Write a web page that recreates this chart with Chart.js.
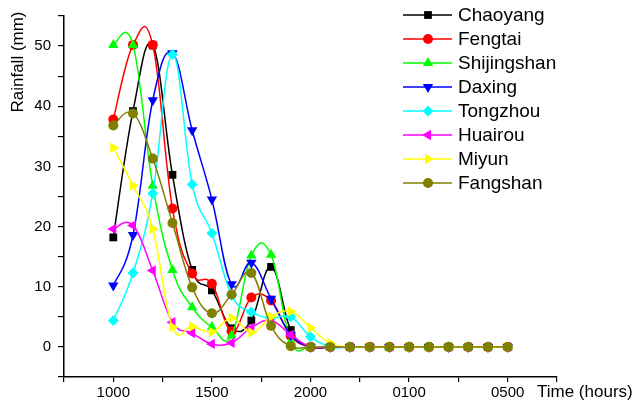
<!DOCTYPE html>
<html>
<head>
<meta charset="utf-8">
<script src="https://cdn.jsdelivr.net/npm/chart.js@4.4.0/dist/chart.umd.min.js"></script>
<style>
  html, body { margin: 0; padding: 0; background: #fff; }
  #wrap { width: 638px; height: 407px; }
</style>
</head>
<body>
<div id="wrap"><canvas id="rainChart" width="638" height="407"></canvas></div>
<script>
// --- Data: hourly rainfall (mm) per district ---
const tickLabels = ['1000', '1500', '2000', '0100', '0500'];
const stations = ['Chaoyang', 'Fengtai', 'Shijingshan', 'Daxing', 'Tongzhou', 'Huairou', 'Miyun', 'Fangshan'];

const chaoyang    = [18.2, 39.2, 50.1, 28.6, 12.8, 9.4, 3.1, 4.4, 13.3, 2.8, 0, 0, 0, 0, 0, 0, 0, 0, 0, 0, 0];
const fengtai     = [37.8, 50.2, 50.2, 23.0, 12.2, 10.5, 2.6, 8.2, 7.7, 1.8, 0, 0, 0, 0, 0, 0, 0, 0, 0, 0, 0];
const shijingshan = [50.2, 50.2, 26.8, 12.8, 6.6, 3.3, 1.9, 15.2, 15.3, 0.9, 0, 0, 0, 0, 0, 0, 0, 0, 0, 0, 0];
const daxing      = [10.2, 18.6, 41.0, 48.8, 36.0, 24.5, 10.4, 14.0, 8.0, 2.0, 0, 0, 0, 0, 0, 0, 0, 0, 0, 0, 0];
const tongzhou    = [4.4, 12.3, 25.5, 48.6, 27.0, 18.9, 8.6, 5.8, 4.8, 5.0, 1.7, 0, 0, 0, 0, 0, 0, 0, 0, 0, 0];
const huairou     = [19.6, 20.2, 12.7, 4.1, 2.3, 0.5, 0.7, 3.2, 4.4, 2.0, 0, 0, 0, 0, 0, 0, 0, 0, 0, 0, 0];
const miyun       = [33.1, 26.8, 19.6, 3.3, 3.4, 2.5, 4.8, 2.4, 5.0, 5.9, 3.2, 0.6, 0, 0, 0, 0, 0, 0, 0, 0, 0];
const fangshan    = [36.8, 38.8, 31.3, 20.6, 9.9, 5.6, 8.7, 12.3, 3.5, 0.1, 0, 0, 0, 0, 0, 0, 0, 0, 0, 0, 0];

const seriesValues = [chaoyang, fengtai, shijingshan, daxing, tongzhou, huairou, miyun, fangshan];

// --- Line / marker styles ---
const styles = [
    { color: '#000000', pointStyle: 'rect',     radius: 5.5, rotation: 0 },
    { color: '#ff0000', pointStyle: 'circle',   radius: 5,   rotation: 0 },
    { color: '#00ff00', pointStyle: 'triangle', radius: 6,   rotation: 0 },
    { color: '#0000ff', pointStyle: 'triangle', radius: 6,   rotation: 180 },
    { color: '#00ffff', pointStyle: 'rectRot',  radius: 5.5, rotation: 0 },
    { color: '#ff00ff', pointStyle: 'triangle', radius: 6,   rotation: -90 },
    { color: '#ffff00', pointStyle: 'triangle', radius: 6,   rotation: 90 },
    { color: '#808000', pointStyle: 'circle',   radius: 5,   rotation: 0 }
];

const FONT = '"Liberation Sans", Arial, sans-serif';
const SMOOTH = 0.2; // handle length as a fraction of the neighbour span

const datasets = stations.map((name, i) => ({
    label: name,
    data: seriesValues[i].map((v, k) => ({ x: k, y: v })),
    borderColor: styles[i].color,
    backgroundColor: styles[i].color,
    borderWidth: 1.5,
    tension: 0.4,
    pointStyle: styles[i].pointStyle,
    pointRadius: styles[i].radius,
    pointRotation: styles[i].rotation,
    pointBorderWidth: 0,
    pointBackgroundColor: styles[i].color,
    order: stations.length - 1 - i // later series drawn on top
}));

// Chart.js weights its bezier handles by segment length, which flattens
// the peaks; swap in evenly spaced Catmull-Rom style handles instead.
const evenSpline = {
    id: 'evenSpline',
    beforeDatasetDraw(chart, args) {
        const line = args.meta.dataset;
        if (!line) return;
        line.updateControlPoints(chart.chartArea);
        const pts = line.points;
        const n = pts.length;
        for (let k = 0; k < n; k++) {
            const prev = pts[Math.max(k - 1, 0)];
            const next = pts[Math.min(k + 1, n - 1)];
            const dx = (next.x - prev.x) * SMOOTH;
            const dy = (next.y - prev.y) * SMOOTH;
            pts[k].cp1x = pts[k].x - dx;
            pts[k].cp1y = pts[k].y - dy;
            pts[k].cp2x = pts[k].x + dx;
            pts[k].cp2y = pts[k].y + dy;
        }
        line._path = undefined;
    }
};

// --- Axis titles + legend with line and marker ---
const decorations = {
    id: 'decorations',
    afterDraw(chart) {
        const ctx = chart.ctx;
        ctx.save();
        ctx.fillStyle = '#000';

        // y title
        ctx.save();
        ctx.translate(18, 62);
        ctx.rotate(-Math.PI / 2);
        ctx.font = '17px ' + FONT;
        ctx.textAlign = 'center';
        ctx.textBaseline = 'middle';
        ctx.fillText('Rainfall (mm)', 0, 0);
        ctx.restore();

        // x title
        ctx.font = '17px ' + FONT;
        ctx.textAlign = 'left';
        ctx.textBaseline = 'middle';
        ctx.fillText('Time (hours)', 537, 392);

        // legend
        ctx.font = '19px ' + FONT;
        stations.forEach((name, i) => {
            const y = 15 + i * 24;
            const s = styles[i];
            ctx.strokeStyle = s.color;
            ctx.lineWidth = 1.5;
            ctx.beginPath();
            ctx.moveTo(403, y);
            ctx.lineTo(452, y);
            ctx.stroke();
            ctx.fillStyle = s.color;
            Chart.helpers.drawPoint(ctx, {
                pointStyle: s.pointStyle,
                radius: s.radius,
                rotation: s.rotation,
                borderWidth: 0
            }, 428, y);
            ctx.fillStyle = '#000';
            ctx.fillText(name, 458, y + 1);
        });
        ctx.restore();
    }
};

const ctx = document.getElementById('rainChart').getContext('2d');
new Chart(ctx, {
    type: 'line',
    data: { datasets: datasets },
    options: {
        responsive: false,
        animation: false,
        layout: { padding: { top: 12, right: 81, left: 0, bottom: 0 } },
        plugins: {
            legend: { display: false },
            tooltip: { enabled: false }
        },
        scales: {
            x: {
                type: 'linear',
                min: -2.5,
                max: 22.5,
                afterFit: (scale) => { scale.height = 30; },
                ticks: {
                    stepSize: 2.5,
                    autoSkip: false,
                    maxRotation: 0,
                    padding: 2,
                    color: '#000',
                    font: { family: FONT, size: 15 },
                    callback: (v) => (v >= 0 && v % 5 === 0) ? tickLabels[v / 5] : ''
                },
                grid: { drawOnChartArea: false, drawTicks: true, tickLength: 5, color: '#000', lineWidth: 1.2 },
                border: { display: true, color: '#000', width: 1.5 }
            },
            y: {
                min: -5,
                max: 55,
                afterFit: (scale) => { scale.width = 64; },
                ticks: {
                    stepSize: 5,
                    padding: 7,
                    color: '#000',
                    font: { family: FONT, size: 15 },
                    callback: (v) => (v % 10 === 0) ? v : ''
                },
                grid: { drawOnChartArea: false, drawTicks: true, tickLength: 6, color: '#000', lineWidth: 1.2 },
                border: { display: true, color: '#000', width: 1.5 }
            }
        }
    },
    plugins: [evenSpline, decorations]
});
</script>
</body>
</html>
